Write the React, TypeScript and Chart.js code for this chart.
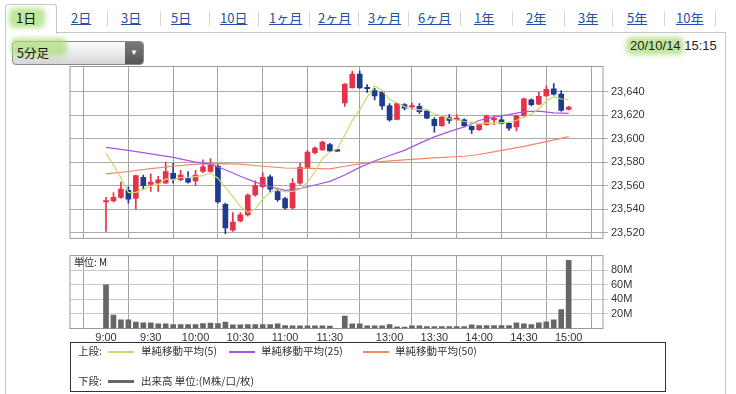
import React, { useEffect, useRef } from 'react';
import { Chart, registerables } from 'chart.js';
Chart.register(...registerables);

// ---- data ----
const tickIdx = [0, 6, 12, 18, 24, 30, 38, 44, 50, 56, 62];
const tickLabels = ['9:00', '9:30', '10:00', '10:30', '11:00', '11:30', '13:00', '13:30', '14:00', '14:30', '15:00'];
const priceTicks = [23520, 23540, 23560, 23580, 23600, 23620, 23640];
const volTicks = [20, 40, 60, 80];

const opens = [23546, 23547, 23550, 23556, 23549, 23567, 23561, 23562, 23562, 23570.5,
  23565, 23566, 23564, 23572, 23572, 23576.5, 23544, 23522, 23530, 23535,
  23552, 23559, 23567.5, 23555, 23549, 23541, 23562, 23575.5, 23588, 23590.5,
  23595, 23589.6, 23630.5, 23643.5, 23655, 23643, 23641, 23639.5, 23628, 23616.5,
  23629, 23627, 23627.5, 23623.5, 23616.5, 23611, 23618, 23616.2, 23616, 23610.5,
  23607.7, 23612, 23616, 23616, 23613, 23610, 23619.5, 23633, 23629.5, 23636.5,
  23642.5, 23638, 23625];
const highs = [23550, 23554, 23563, 23559, 23569, 23569, 23570, 23568, 23580, 23579,
  23573, 23572, 23573, 23582, 23583, 23578, 23545, 23537, 23537, 23553,
  23564, 23571, 23569, 23557, 23550, 23566, 23579, 23590, 23593, 23598,
  23596, 23589.8, 23647, 23657.5, 23657.5, 23646, 23643, 23640, 23630, 23630.5,
  23630, 23630.5, 23630, 23624, 23618, 23619, 23620.5, 23620.5, 23617, 23611,
  23612.5, 23620, 23619.5, 23620, 23614, 23620, 23634.5, 23634, 23639.5, 23645,
  23647, 23641, 23627.5];
const lows = [23521, 23546, 23549, 23545, 23540, 23557, 23555, 23555, 23562, 23562,
  23564, 23562, 23560, 23571, 23571, 23545, 23519, 23521, 23529, 23534,
  23551, 23558, 23554, 23546.5, 23540, 23540, 23561, 23575, 23587, 23590,
  23589, 23589.2, 23627.5, 23643, 23643, 23639.5, 23633, 23625, 23615, 23616,
  23624.5, 23625, 23621.5, 23617, 23605.5, 23610.5, 23613, 23615.5, 23610, 23604.5,
  23607, 23611.5, 23612, 23612.5, 23607, 23606.5, 23619, 23628, 23629, 23636,
  23637, 23623.5, 23624.5];
const closes = [23547, 23550, 23557, 23548.5, 23568.5, 23560, 23563, 23565, 23572, 23565.5,
  23569, 23563, 23569, 23576, 23577.5, 23546, 23524, 23529, 23535, 23552,
  23560, 23567, 23557, 23548, 23541, 23562, 23575.5, 23588.5, 23592, 23597,
  23589.5, 23589.4, 23646.5, 23655, 23643.3, 23642.5, 23636.5, 23628, 23616, 23630,
  23626, 23627.5, 23623, 23617.5, 23611, 23618.5, 23615.5, 23617, 23611, 23607.7,
  23612, 23619.5, 23616.5, 23613, 23609, 23619.5, 23634, 23629, 23636, 23642,
  23638, 23624, 23627];
const volumes = [60, 18.3, 12, 12, 8.7, 7.8, 7.8, 6.4, 6.4, 5.5,
  5.5, 5.5, 5.5, 6.8, 7.3, 6.8, 8.7, 5, 5, 5.5,
  5.5, 5.5, 5.5, 6.4, 4.1, 3.7, 3.7, 3.7, 3.7, 3.7,
  3.2, 0, 17, 6.4, 6.4, 3.7, 3.7, 3.7, 5.5, 2.3,
  1.8, 3.7, 3.7, 2.7, 2.7, 2.7, 2.7, 2.7, 2.7, 5,
  4, 4, 4, 4, 4, 7.8, 6.4, 5.5, 7.8, 9.1,
  12, 26, 93.6];
const ma5 = [23587.5, 23577.5, 23566.5, 23554, 23554.2, 23556.8, 23559.4, 23561, 23565.7, 23565.1,
  23566.9, 23566.9, 23567.7, 23568.5, 23570.9, 23566.3, 23558.5, 23550.5, 23542.3, 23537.2,
  23540, 23548.6, 23554.2, 23556.8, 23554.6, 23555, 23556.7, 23563, 23571.8, 23583,
  23588.5, 23591.3, 23602.9, 23615.5, 23624.8, 23635.4, 23644.8, 23641.1, 23633.3, 23630.6,
  23627.3, 23625.5, 23624.5, 23624.8, 23621, 23619.5, 23617.1, 23615.9, 23614.6, 23613.9,
  23612.6, 23613.4, 23613.3, 23613.7, 23614, 23615.5, 23618.4, 23620.9, 23625.5, 23632.1,
  23635.8, 23633.8, 23633.4];
const ma25Idx = [0, 3, 6, 9, 12, 14, 16, 18, 20, 22, 24, 26, 28, 30, 32, 34, 36, 38, 40, 42, 44, 46, 48, 50, 52, 54, 56, 58, 60, 62];
const ma25 = [23592.6, 23590, 23587, 23584, 23580, 23578.3, 23573.5, 23568, 23563, 23559,
  23556, 23557.5, 23560.5, 23563.6, 23569, 23575.5, 23581, 23585.7, 23590, 23596,
  23601.5, 23606, 23610, 23615.5, 23618.5, 23620.5, 23623, 23623.5, 23622, 23621.5];
const ma50Idx = [0, 3, 6, 9, 12, 15, 18, 21, 24, 27, 30, 32, 34, 36, 40, 44, 48, 50, 53, 56, 59, 62];
const ma50 = [23570, 23572, 23574.5, 23576.5, 23578.3, 23578.8, 23578.3, 23576.5, 23575, 23574.6,
  23574.2, 23576.5, 23578.5, 23580, 23582, 23583.7, 23585, 23586.5, 23590, 23593.5, 23597.5, 23601.7];

// ---- styles ----
const RED = '#e5344a';
const BLUE = '#1f3c8c';
const C_MA5 = '#c8d96c';
const C_MA25 = '#a655e4';
const C_MA50 = '#f08868';
const GRID = '#ababab';
const LATIN = '"Liberation Sans", Arial, sans-serif';
const CJK = '"Noto Sans CJK JP", "Liberation Sans", sans-serif';
const X_MIN = -4.824;
const X_MAX = 66.6;

const framePlugin = {
  id: 'frame',
  beforeDatasetsDraw(chart: any) {
    const { ctx, chartArea: a } = chart;
    ctx.save();
    ctx.strokeStyle = '#9a9a9a';
    ctx.lineWidth = 1;
    ctx.strokeRect(a.left, a.top, a.right - a.left, a.bottom - a.top);
    ctx.restore();
  },
};

export default function App() {
  const priceRef = useRef<HTMLCanvasElement>(null);
  const volRef = useRef<HTMLCanvasElement>(null);

  useEffect(() => {
    document.body.style.margin = '0';
    Chart.defaults.font.family = LATIN;
    const idx = closes.map((_, i) => i);
    const colors = idx.map((i) => (closes[i] >= opens[i] ? RED : BLUE));

    const xScale = (showTicks: boolean) => ({
      type: 'linear',
      min: X_MIN,
      max: X_MAX,
      offset: false,
      afterBuildTicks: (s: any) => {
        s.ticks = tickIdx.map((v) => ({ value: v }));
      },
      afterFit: (s: any) => {
        s.height = showTicks ? 14 : 0;
      },
      grid: { color: '#a2a2a2', drawTicks: false, lineWidth: 1 },
      border: { display: false },
      ticks: {
        display: showTicks,
        padding: 3,
        maxRotation: 0,
        autoSkip: false,
        color: '#333',
        font: { size: 11, family: LATIN },
        callback: (v: any) => {
          const k = tickIdx.indexOf(Number(v));
          return k >= 0 ? tickLabels[k] : '';
        },
      },
    });

    const price = new Chart(priceRef.current!, {
      type: 'bar',
      data: {
        datasets: [
          { type: 'line', data: idx.map((i) => ({ x: i, y: ma5[i] })), borderColor: C_MA5, borderWidth: 1.2, pointRadius: 0, order: 0 } as any,
          { type: 'line', data: ma25Idx.map((x, k) => ({ x, y: ma25[k] })), borderColor: C_MA25, borderWidth: 1.2, pointRadius: 0, order: 0 } as any,
          { type: 'line', data: ma50Idx.map((x, k) => ({ x, y: ma50[k] })), borderColor: C_MA50, borderWidth: 1.2, pointRadius: 0, order: 0 } as any,
          {
            type: 'bar',
            data: idx.map((i) => ({ x: i, y: [opens[i], closes[i]] })),
            backgroundColor: colors,
            borderWidth: 0,
            barThickness: 5,
            minBarLength: 1.5,
            grouped: false,
            order: 1,
          } as any,
          {
            type: 'bar',
            data: idx.map((i) => ({ x: i, y: [lows[i], highs[i]] })),
            backgroundColor: colors,
            borderWidth: 0,
            barThickness: 1,
            grouped: false,
            order: 2,
          } as any,
        ],
      },
      options: {
        animation: false,
        responsive: false,
        maintainAspectRatio: false,
        layout: { padding: { left: 10, top: 10.5, right: 0, bottom: 4.5 } },
        plugins: { legend: { display: false }, tooltip: { enabled: false } },
        scales: {
          x: xScale(false) as any,
          y: {
            position: 'right',
            min: 23515,
            max: 23661.5,
            afterBuildTicks: (s: any) => {
              s.ticks = priceTicks.map((v) => ({ value: v }));
            },
            afterFit: (s: any) => {
              s.width = 67;
            },
            grid: { color: GRID, tickLength: 5, lineWidth: 1 },
            border: { display: false },
            ticks: {
              padding: 3,
              color: '#333',
              font: { size: 11, family: LATIN },
              callback: (v: any) => Number(v).toLocaleString('en-US'),
            },
          },
        },
      },
      plugins: [framePlugin],
    } as any);

    const vol = new Chart(volRef.current!, {
      type: 'bar',
      data: {
        datasets: [
          {
            data: idx.map((i) => ({ x: i, y: volumes[i] })),
            backgroundColor: '#666666',
            borderWidth: 0,
            barThickness: 5,
            grouped: false,
          } as any,
        ],
      },
      options: {
        animation: false,
        responsive: false,
        maintainAspectRatio: false,
        layout: { padding: { left: 10, top: 9.5, right: 0, bottom: 3.5 } },
        plugins: { legend: { display: false }, tooltip: { enabled: false } },
        scales: {
          x: xScale(true) as any,
          y: {
            position: 'right',
            min: 0,
            max: 100,
            afterBuildTicks: (s: any) => {
              s.ticks = volTicks.map((v) => ({ value: v }));
            },
            afterFit: (s: any) => {
              s.width = 67;
            },
            grid: { color: '#c8c8c8', tickLength: 5, lineWidth: 1 },
            border: { display: false },
            ticks: {
              padding: 3,
              color: '#333',
              font: { size: 11, family: LATIN },
              callback: (v: any) => `${v}M`,
            },
          },
        },
      },
      plugins: [framePlugin],
    } as any);

    return () => {
      price.destroy();
      vol.destroy();
    };
  }, []);

  const tabs = [
    ['2日', 71], ['3日', 121], ['5日', 171], ['10日', 220], ['1ヶ月', 269], ['2ヶ月', 318],
    ['3ヶ月', 368], ['6ヶ月', 418], ['1年', 474], ['2年', 526], ['3年', 578], ['5年', 627], ['10年', 676],
  ] as [string, number][];
  const seps = [107, 160, 209, 258, 309, 358, 408, 460, 512, 564, 612, 664, 715];

  const abs = (s: React.CSSProperties): React.CSSProperties => ({ position: 'absolute', ...s });
  const hl = (left: number, top: number, w: number, h: number) => (
    <div style={abs({ left, top, width: w, height: h, background: 'rgba(170,222,120,0.75)', filter: 'blur(2.5px)', borderRadius: 5 })} />
  );

  return (
    <div style={{ position: 'fixed', left: 0, top: 0, width: 736, height: 394, background: '#fff', overflow: 'hidden' }}>
      {/* frame & tabs */}
      <div style={abs({ left: 5, top: 4, width: 50, height: 29, borderLeft: '1px solid #c8c8c8', borderTop: '1px solid #c8c8c8', borderRight: '1px solid #c8c8c8', borderRadius: '3px 3px 0 0', background: '#fff' })} />
      <div style={abs({ left: 56, top: 32, width: 670, height: 1, background: '#c8c8c8' })} />
      <div style={abs({ left: 5, top: 33, width: 1, height: 361, background: '#c8c8c8' })} />
      <div style={abs({ left: 725, top: 32, width: 1, height: 362, background: '#c8c8c8' })} />
      {hl(9, 8, 36, 20)}
      <div style={abs({ left: 16, top: 9, fontFamily: CJK, fontSize: 13, color: '#111', lineHeight: '18px' })}>1日</div>
      {tabs.map(([t, x]) => (
        <div key={t} style={abs({ left: x, top: 9, fontFamily: CJK, fontSize: 13, color: '#2152a8', textDecoration: 'underline', lineHeight: '18px' })}>{t}</div>
      ))}
      {seps.map((x) => (
        <div key={x} style={abs({ left: x, top: 11, width: 1, height: 15, background: '#d4d4d4' })} />
      ))}

      {/* dropdown */}
      <div style={abs({ left: 12, top: 41, width: 130, height: 22, border: '1px solid #8a8a8a', borderRadius: 4, background: 'linear-gradient(#fefefe, #d6d6d6)', overflow: 'hidden' })}>
        <div style={abs({ right: 0, top: 0, width: 18, height: 22, background: 'linear-gradient(#7a7a7a, #555)', color: '#fff', fontSize: 8, lineHeight: '22px', textAlign: 'center' })}>▼</div>
      </div>
      {hl(11, 38, 56, 18)}
      <div style={abs({ left: 17, top: 44, fontFamily: CJK, fontSize: 12.5, color: '#111', lineHeight: '18px' })}>5分足</div>

      {/* date */}
      {hl(626, 37, 58, 18)}
      <div style={abs({ left: 630, top: 38, fontFamily: LATIN, fontSize: 13, color: '#222', lineHeight: '16px', whiteSpace: 'nowrap' })}>20/10/14 15:15</div>

      {/* charts */}
      <div style={abs({ left: 60, top: 56, width: 610, height: 192 })}>
        <canvas ref={priceRef} width={610} height={192} style={{ width: 610, height: 192, display: 'block' }} />
      </div>
      <div style={abs({ left: 60, top: 246, width: 610, height: 100 })}>
        <canvas ref={volRef} width={610} height={100} style={{ width: 610, height: 100, display: 'block' }} />
      </div>
      <div style={abs({ left: 74, top: 256, fontFamily: CJK, fontSize: 10, color: '#222', lineHeight: '12px' })}>単位: M</div>

      {/* legend */}
      <div style={abs({ left: 70, top: 342, width: 594, height: 48, border: '1px solid #333' })} />
      <div style={abs({ left: 78, top: 344, fontFamily: CJK, fontSize: 10.5, color: '#333', lineHeight: '14px' })}>上段:</div>
      <div style={abs({ left: 108, top: 351, width: 26, height: 1.5, background: C_MA5 })} />
      <div style={abs({ left: 141, top: 344, fontFamily: CJK, fontSize: 10.5, color: '#333', lineHeight: '14px', whiteSpace: 'nowrap' })}>単純移動平均(5)</div>
      <div style={abs({ left: 229, top: 351, width: 26, height: 1.5, background: C_MA25 })} />
      <div style={abs({ left: 261, top: 344, fontFamily: CJK, fontSize: 10.5, color: '#333', lineHeight: '14px', whiteSpace: 'nowrap' })}>単純移動平均(25)</div>
      <div style={abs({ left: 363, top: 351, width: 26, height: 1.5, background: C_MA50 })} />
      <div style={abs({ left: 395, top: 344, fontFamily: CJK, fontSize: 10.5, color: '#333', lineHeight: '14px', whiteSpace: 'nowrap' })}>単純移動平均(50)</div>
      <div style={abs({ left: 78, top: 374, fontFamily: CJK, fontSize: 10.5, color: '#333', lineHeight: '14px' })}>下段:</div>
      <div style={abs({ left: 108, top: 380, width: 26, height: 3, background: '#666' })} />
      <div style={abs({ left: 141, top: 374, fontFamily: CJK, fontSize: 10.5, color: '#333', lineHeight: '14px', whiteSpace: 'nowrap' })}>出来高 単位:(M株/口/枚)</div>
    </div>
  );
}
